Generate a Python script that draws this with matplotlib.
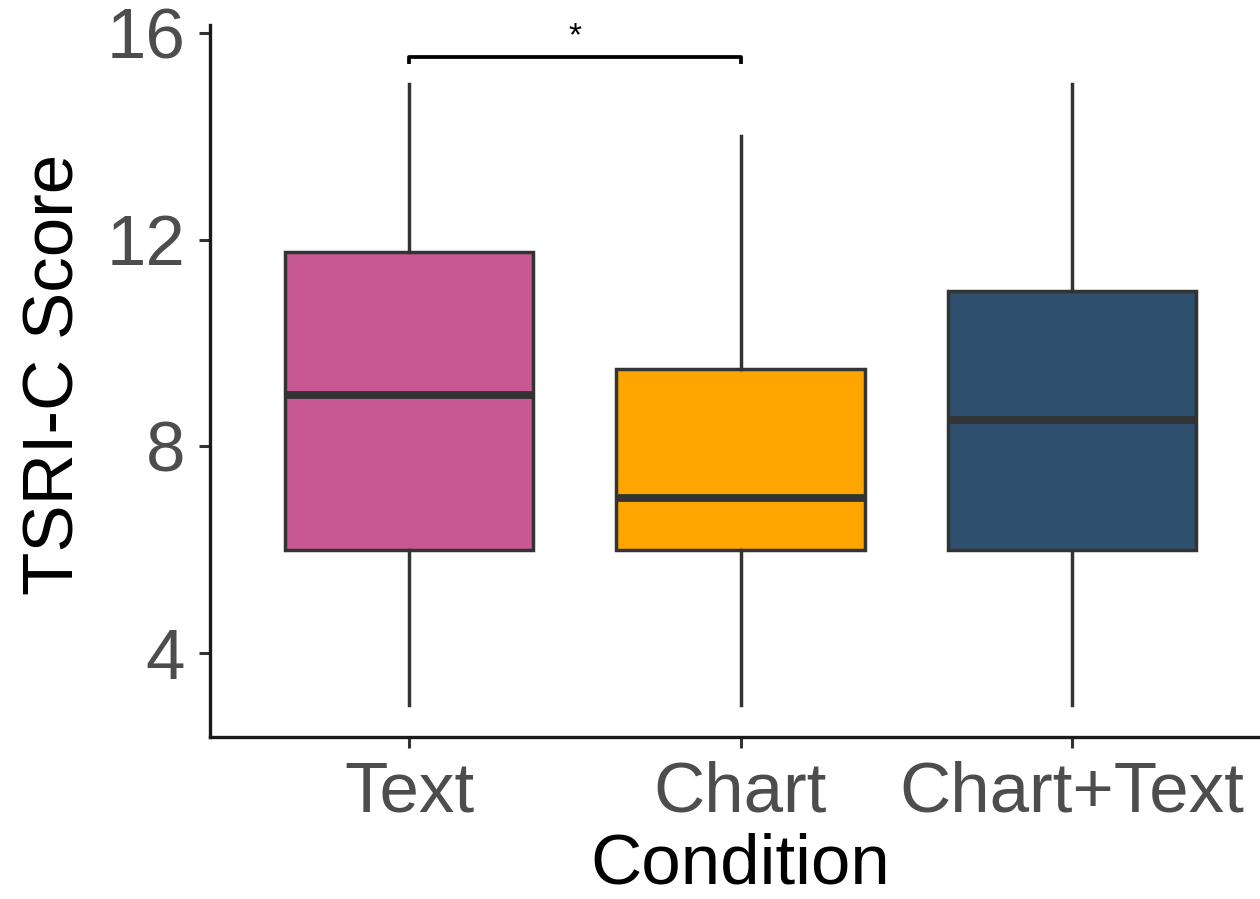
import matplotlib
matplotlib.use("Agg")
import matplotlib.pyplot as plt

conditions = ["Text", "Chart", "Chart+Text"]
whisker_low = [3, 3, 3]
q1 = [6, 6, 6]
medians = [9, 7, 8.5]
q3 = [11.75, 9.5, 11]
whisker_high = [15, 14, 15]
colors = ["#C85891", "#FFA500", "#2E4F6E"]
y_ticks = [4, 8, 12, 16]
sig_pair = (0, 1)
sig_label = "*"
sig_y = 15.54
sig_tip = 15.40

plt.rcParams['font.family'] = ['Liberation Sans', 'DejaVu Sans']

fig = plt.figure(figsize=(12.6, 8.99), dpi=100)
W, H = 1260, 899
left, right, top, bottom = 210, 1271, 25, 737
ax = fig.add_axes([left / W, 1 - bottom / H, (right - left) / W, (bottom - top) / H])

stats = []
for i, c in enumerate(conditions):
    stats.append(dict(label=c, whislo=whisker_low[i], q1=q1[i], med=medians[i],
                      q3=q3[i], whishi=whisker_high[i], fliers=[]))
pos = [1, 2, 3]
bp = ax.bxp(stats, positions=pos, widths=0.75, patch_artist=True, showcaps=False,
            boxprops=dict(edgecolor="#333333", linewidth=2.5),
            whiskerprops=dict(color="#333333", linewidth=2.5),
            medianprops=dict(color="#333333", linewidth=5.6, solid_capstyle="butt"))
for patch, col in zip(bp["boxes"], colors):
    patch.set_facecolor(col)

ax.set_xlim(0.4, 3.6)
ax.set_ylim(2.377, 16.15)
ax.set_yticks(y_ticks)
ax.set_xticks(pos)
ax.set_xticklabels(conditions)

for s in ["top", "right"]:
    ax.spines[s].set_visible(False)
for s in ["left", "bottom"]:
    ax.spines[s].set_linewidth(2.4)
    ax.spines[s].set_color("#1a1a1a")
ax.tick_params(axis="both", length=8, width=2.2, color="#333333",
               labelcolor="#4D4D4D", labelsize=51)
ax.tick_params(axis="x", pad=9)
ax.tick_params(axis="y", pad=10)

fig.text(740 / W, 1 - 883 / H, "Condition", fontsize=51, color="black",
         ha="center", va="baseline")
fig.text(56 / W, 1 - 374 / H, "TSRI-C Score", fontsize=51, color="black",
         ha="center", va="center", rotation=90)

# significance bracket
x1, x2 = pos[sig_pair[0]], pos[sig_pair[1]]
ax.plot([x1, x1, x2, x2], [sig_tip, sig_y, sig_y, sig_tip], color="black",
        linewidth=2.7, clip_on=False, solid_capstyle="butt")
ax.annotate(sig_label, xy=((x1 + x2) / 2, sig_y), xytext=(0, 35),
            textcoords="offset pixels", ha="center", va="top",
            fontsize=24, color="black")

fig.savefig("out.png", dpi=100)
